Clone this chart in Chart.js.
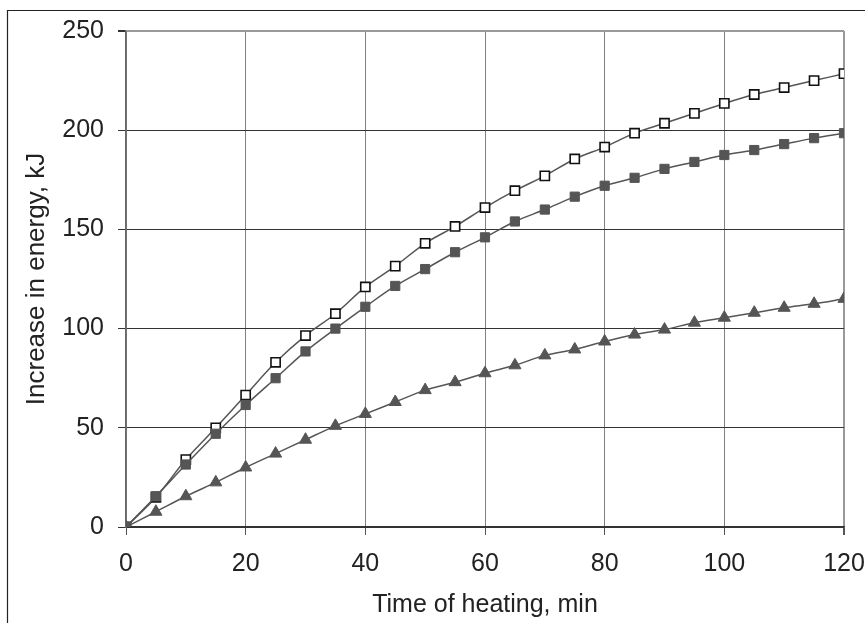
<!DOCTYPE html>
<html>
<head>
<meta charset="utf-8">
<script src="https://cdn.jsdelivr.net/npm/chart.js@4.4.1/dist/chart.umd.min.js"></script>
<style>
    html, body { margin: 0; padding: 0; background: #fff; }
    #wrap { width: 865px; height: 623px; }
</style>
</head>
<body>
<div id="wrap"><canvas id="chart" width="865" height="623"></canvas></div>
<script>
// Time of heating, min
const minutes = [0, 5, 10, 15, 20, 25, 30, 35, 40, 45, 50, 55, 60, 65, 70, 75, 80, 85, 90, 95, 100, 105, 110, 115, 120];

// Increase in energy, kJ
const openSquares = [0, 15, 34, 50, 66.5, 83, 96.5, 107.5, 121, 131.5, 143, 151.5, 161, 169.5, 177, 185.5, 191.5, 198.5, 203.5, 208.5, 213.5, 218, 221.5, 225, 228.5];
const filledSquares = [0, 15.5, 31.5, 47, 61.5, 75, 88.5, 100, 111, 121.5, 130, 138.5, 146, 154, 160, 166.5, 172, 176, 180.5, 184, 187.5, 190, 193, 196, 198.5];
const triangles = [0, 7.7, 15.5, 22.5, 30, 37, 44, 51, 57, 63, 69, 73, 77.5, 81.5, 86.5, 89.5, 93.5, 97, 99.5, 103, 105.5, 108, 110.5, 112.5, 115];

const xTicks = [0, 20, 40, 60, 80, 100, 120];
const yTicks = [0, 50, 100, 150, 200, 250];

const lineGrey = '#555555';
const family = '"Liberation Sans", Arial, sans-serif';
const tickFont = { family: family, size: 25 };

function toPoints(values) {
    return minutes.map((m, i) => ({ x: m, y: values[i] }));
}

// Outer frame of the figure (left and top edge)
const framePlugin = {
    id: 'frame',
    afterDraw: function(chart) {
        const ctx = chart.ctx;
        ctx.save();
        ctx.strokeStyle = '#222';
        ctx.lineWidth = 1.2;
        ctx.beginPath();
        ctx.moveTo(7.5, 623);
        ctx.lineTo(7.5, 10.5);
        ctx.lineTo(865, 10.5);
        ctx.stroke();
        ctx.restore();
    }
};

const ctx = document.getElementById('chart').getContext('2d');

new Chart(ctx, {
    type: 'line',
    data: {
        datasets: [
            {
                label: 'Triangles',
                data: toPoints(triangles),
                borderColor: lineGrey,
                borderWidth: 1.5,
                pointStyle: 'triangle',
                pointRadius: 7,
                pointBackgroundColor: lineGrey,
                pointBorderColor: lineGrey,
                pointBorderWidth: 1,
                tension: 0.3
            },
            {
                label: 'Filled squares',
                data: toPoints(filledSquares),
                borderColor: lineGrey,
                borderWidth: 1.5,
                pointStyle: 'rect',
                pointRadius: 6.5,
                pointBackgroundColor: lineGrey,
                pointBorderColor: lineGrey,
                pointBorderWidth: 1,
                tension: 0.3
            },
            {
                label: 'Open squares',
                data: toPoints(openSquares),
                borderColor: lineGrey,
                borderWidth: 1.5,
                pointStyle: 'rect',
                pointRadius: 6.5,
                pointBackgroundColor: '#ffffff',
                pointBorderColor: '#111111',
                pointBorderWidth: 1.6,
                tension: 0.3
            }
        ]
    },
    options: {
        responsive: false,
        animation: false,
        layout: {
            padding: { left: 0, right: 21, top: 31, bottom: 0 }
        },
        plugins: {
            legend: { display: false },
            tooltip: { enabled: false }
        },
        scales: {
            x: {
                type: 'linear',
                min: 0,
                max: 120,
                afterBuildTicks: function(scale) {
                    scale.ticks = xTicks.map(v => ({ value: v }));
                },
                afterFit: function(scale) {
                    scale.height = 96;
                    scale.paddingLeft = 0;
                    scale.paddingRight = 0;
                },
                border: { display: true, color: '#333', width: 1.5 },
                grid: {
                    color: function(c) { return c.tick && c.tick.value === 120 ? '#999' : '#808080'; },
                    lineWidth: function(c) { return c.tick && c.tick.value === 120 ? 2 : 1; },
                    tickLength: 8,
                    tickColor: '#555'
                },
                ticks: {
                    color: '#222',
                    font: tickFont,
                    padding: 14,
                    maxRotation: 0
                },
                title: {
                    display: true,
                    text: 'Time of heating, min',
                    color: '#222',
                    font: { family: family, size: 25 },
                    padding: { top: 0, bottom: 3 }
                }
            },
            y: {
                min: 0,
                max: 250,
                afterBuildTicks: function(scale) {
                    scale.ticks = yTicks.map(v => ({ value: v }));
                },
                afterFit: function(scale) {
                    scale.width = 126;
                },
                border: { display: true, color: '#666', width: 1.5 },
                grid: {
                    color: function(c) { return c.tick && c.tick.value === 250 ? '#999' : '#333'; },
                    lineWidth: function(c) { return c.tick && c.tick.value === 250 ? 2 : 1; },
                    tickLength: 8,
                    tickColor: '#333'
                },
                ticks: {
                    color: '#222',
                    font: tickFont,
                    padding: 14
                },
                title: {
                    display: true,
                    text: 'Increase in energy, kJ',
                    color: '#222',
                    font: { family: family, size: 26 },
                    padding: { top: 21, bottom: 0 }
                }
            }
        }
    },
    plugins: [framePlugin]
});
</script>
</body>
</html>
